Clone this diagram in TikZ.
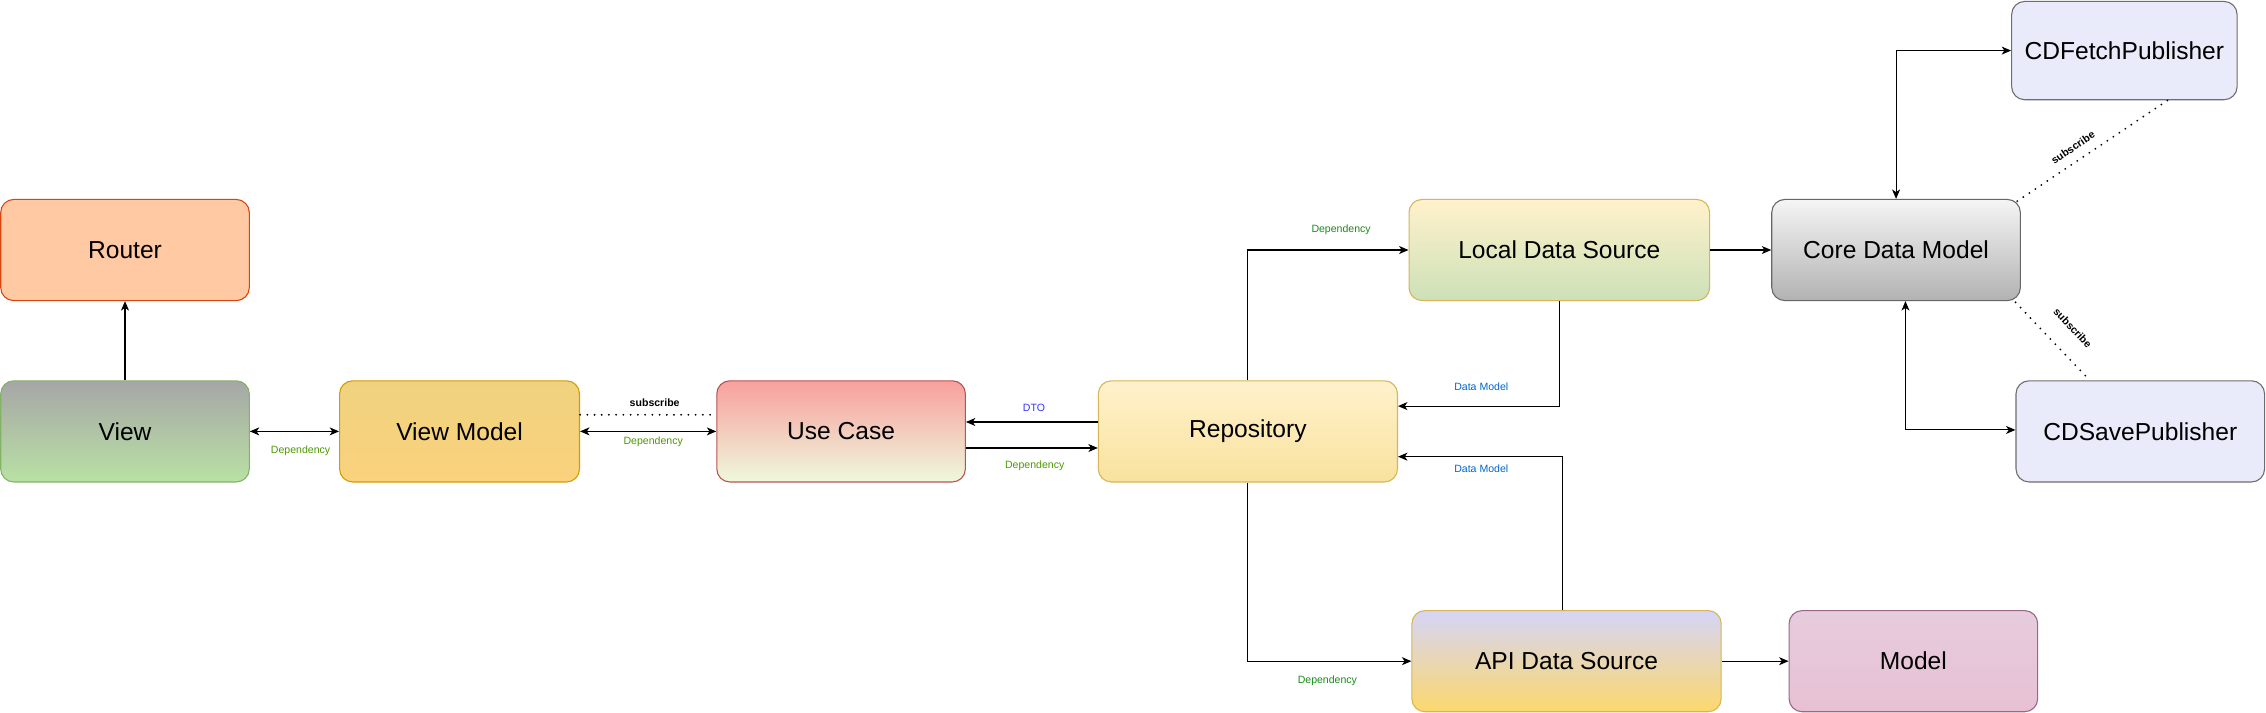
\documentclass[tikz,border=0pt]{standalone}
\usepackage{fontspec}
\setmainfont{Liberation Sans}
\usetikzlibrary{arrows.meta,calc}
\definecolor{depA}{HTML}{4D9900}
\definecolor{depB}{HTML}{1A8A1A}
\definecolor{dtoblue}{HTML}{3333FF}
\definecolor{dmblue}{HTML}{0066CC}
\begin{document}
\begin{tikzpicture}[x=1pt,y=-1pt,
  box/.style={draw, rounded corners=9pt, line width=0.75pt, minimum height=70pt,
    font=\fontsize{17}{20}\selectfont, text=black, inner sep=0pt},
  tip/.tip={Stealth[length=6.5pt,width=5.5pt,inset=1.8pt]},
  conn/.style={line width=0.75pt, -tip},
  dconn/.style={line width=0.75pt, tip-tip},
  dotc/.style={line width=1.4pt, dash pattern=on 0pt off 5pt, line cap=round},
  lbl/.style={font=\fontsize{7.3}{9}\selectfont, inner sep=1pt},
  blbl/.style={font=\fontsize{7.3}{9}\selectfont\bfseries, inner sep=1pt},
]
\fill[white] (0,0) rectangle (1568,493);
\useasboundingbox (0,0) rectangle (1568,493);

% nodes
\node[box, minimum width=172pt, fill={rgb,255:red,255;green,201;blue,164}, draw={rgb,255:red,217;green,69;blue,15}] (router) at (86.5,173) {Router};
\node[box, minimum width=172pt, top color={rgb,255:red,166;green,166;blue,166}, bottom color={rgb,255:red,185;green,225;blue,164}, draw={rgb,255:red,130;green,179;blue,102}] (view) at (86.5,298.5) {View};
\node[box, minimum width=166pt, top color={rgb,255:red,239;green,210;blue,127}, bottom color={rgb,255:red,251;green,210;blue,125}, draw={rgb,255:red,215;green,155;blue,0}] (vm) at (318,298.5) {View Model};
\node[box, minimum width=172pt, top color={rgb,255:red,248;green,160;blue,157}, bottom color={rgb,255:red,238;green,249;blue,221}, draw={rgb,255:red,184;green,84;blue,80}] (uc) at (582,298.5) {Use Case};
\node[box, minimum width=207pt, top color={rgb,255:red,255;green,242;blue,204}, bottom color={rgb,255:red,249;green,226;blue,158}, draw={rgb,255:red,214;green,182;blue,86}] (repo) at (863.5,298.5) {Repository};
\node[box, minimum width=208pt, top color={rgb,255:red,255;green,242;blue,204}, bottom color={rgb,255:red,205;green,224;blue,183}, draw={rgb,255:red,214;green,182;blue,86}] (lds) at (1079,173) {Local Data Source};
\node[box, minimum width=172pt, top color={rgb,255:red,245;green,245;blue,245}, bottom color={rgb,255:red,178;green,178;blue,178}, draw={rgb,255:red,102;green,102;blue,102}] (cdm) at (1312,173) {Core Data Model};
\node[box, minimum width=156pt, minimum height=68pt, fill={rgb,255:red,233;green,234;blue,250}, draw={rgb,255:red,110;green,110;blue,110}] (fetch) at (1470,35) {CDFetchPublisher};
\node[box, minimum width=172pt, fill={rgb,255:red,233;green,234;blue,250}, draw={rgb,255:red,110;green,110;blue,110}] (save) at (1481,298.5) {CDSavePublisher};
\node[box, minimum width=214pt, top color={rgb,255:red,213;green,213;blue,248}, bottom color={rgb,255:red,252;green,216;blue,108}, draw={rgb,255:red,214;green,182;blue,86}] (api) at (1084,457.5) {API Data Source};
\node[box, minimum width=172pt, top color={rgb,255:red,230;green,204;blue,221}, bottom color={rgb,255:red,232;green,192;blue,212}, draw={rgb,255:red,154;green,103;blue,135}] (model) at (1324,457.5) {Model};

% connectors
\draw[conn] (view) -- (router);
\draw[dconn] (view) -- (vm);
\draw[dotc] ([yshift=11.5pt]vm.east) -- ([yshift=11.5pt]uc.west);
\draw[dconn] (vm) -- (uc);
\draw[conn] ([yshift=6.5pt]repo.west) -- ([yshift=6.5pt]uc.east);
\draw[conn] ([yshift=-11.5pt]uc.east) -- ([yshift=-11.5pt]repo.west);
\draw[conn] (repo.north) |- (lds.west);
\draw[conn] (lds.south) |- ([yshift=17.5pt]repo.east);
\draw[conn] ([xshift=-3pt]api.north) |- ([yshift=-17.5pt]repo.east);
\draw[conn] (repo.south) |- (api.west);
\draw[conn] (api) -- (model);
\draw[conn] (lds) -- (cdm);
\draw[dconn] (cdm.north) |- (fetch.west);
\draw[dconn] ([xshift=6.5pt]cdm.south) |- ([yshift=1pt]save.west);
\draw[dotc] ([xshift=-2.5pt,yshift=-1.5pt]cdm.north east) -- node[blbl, sloped, above=5pt, pos=0.42] (s2) {subscribe} ([xshift=30pt]fetch.south);
\draw[dotc] ([xshift=-3.7pt,yshift=-0.8pt]cdm.south east) -- node[blbl, sloped, above=12pt, pos=0.54] (s3) {subscribe} ([xshift=-35pt]save.north);

% labels
\node[lbl, text=depA] (l1) at (208,312) {Dependency};
\node[blbl] (l2) at (453,279) {subscribe};
\node[lbl, text=depA] (l3) at (452,305.4) {Dependency};
\node[lbl, text=dtoblue] (l4) at (715.5,282) {DTO};
\node[lbl, text=depA] (l5) at (716,322.5) {Dependency};
\node[lbl, text=depB] (l6) at (928,158.7) {Dependency};
\node[lbl, text=dmblue] (l7) at (1025,267.6) {Data Model};
\node[lbl, text=dmblue] (l8) at (1025,324.5) {Data Model};
\node[lbl, text=depB] (l9) at (918.5,470.8) {Dependency};
\end{tikzpicture}
\end{document}
